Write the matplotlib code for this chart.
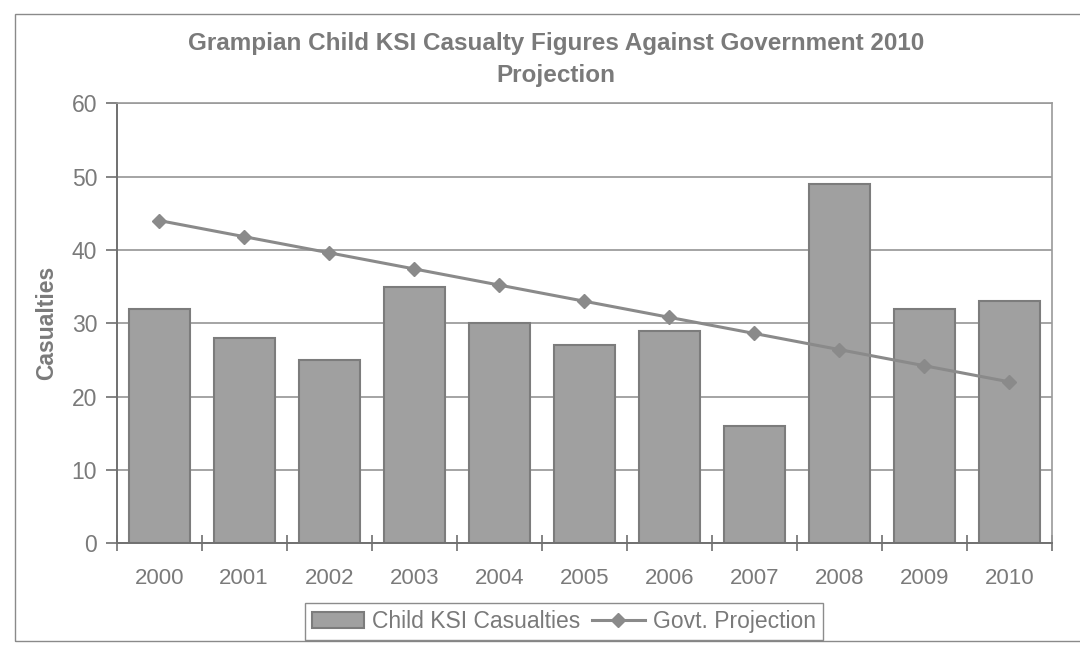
import numpy as np
import matplotlib
matplotlib.use("Agg")
import matplotlib.pyplot as plt
from matplotlib.patches import Rectangle

# data
YEARS = ["2000", "2001", "2002", "2003", "2004", "2005",
         "2006", "2007", "2008", "2009", "2010"]
CASUALTIES = [32, 28, 25, 35, 30, 27, 29, 16, 49, 32, 33]
PROJECTION = [44.0, 41.8, 39.6, 37.4, 35.2, 33.0, 30.8, 28.6, 26.4, 24.2, 22.0]

TXT = "#7a7a7a"
plt.rcParams["font.family"] = ["Liberation Sans", "DejaVu Sans"]

fig = plt.figure(figsize=(10.8, 6.49), dpi=100)
ax = fig.add_axes([0.108, 0.163, 0.866, 0.678])

# outer chart border (Excel chart area)
fig.patches.append(Rectangle((0.014, 0.013), 1.2, 0.965, transform=fig.transFigure,
                             fill=False, ec="#8a8a8a", lw=1.0))

x = np.arange(len(YEARS))
bars = ax.bar(x, CASUALTIES, width=0.72, color="#a0a0a0", edgecolor="#7c7c7c",
              lw=1.5, zorder=2, label="Child KSI Casualties")
line, = ax.plot(x, PROJECTION, color="#8a8a8a", lw=2.2, marker="D", ms=7,
                mfc="#8a8a8a", mec="#8a8a8a", zorder=3, label="Govt. Projection")

ax.set_xlim(-0.5, len(YEARS) - 0.5)
ax.set_ylim(0, 60)
ax.set_yticks(range(0, 61, 10))
ax.set_xticks(x)
ax.set_xticklabels(YEARS)
ax.set_xticks(np.arange(-0.5, len(YEARS), 1.0), minor=True)
ax.tick_params(axis="x", which="major", length=0, pad=18, labelsize=16, labelcolor=TXT)
ax.tick_params(axis="x", which="minor", direction="inout", length=12, width=1.2, color="#707070")
ax.tick_params(axis="y", direction="out", length=8, width=1.2, color="#707070",
               labelsize=16.5, labelcolor=TXT, pad=6)

ax.grid(axis="y", color="#8c8c8c", lw=1.1, zorder=0)
for side in ["top", "right"]:
    ax.spines[side].set_color("#9a9a9a")
    ax.spines[side].set_linewidth(1.2)
for side in ["left", "bottom"]:
    ax.spines[side].set_color("#707070")
    ax.spines[side].set_linewidth(1.4)

ax.set_ylabel("Casualties", fontsize=16.5, fontweight="bold", color=TXT, labelpad=10)
fig.text(0.515, 0.908, "Grampian Child KSI Casualty Figures Against Government 2010\nProjection",
         ha="center", va="center", fontsize=17.5, fontweight="bold", color=TXT, linespacing=1.5)

leg = fig.legend([bars, line], ["Child KSI Casualties", "Govt. Projection"],
                 loc="center", bbox_to_anchor=(0.522, 0.042), ncol=2, frameon=True,
                 fancybox=False, fontsize=16.5, handlelength=2.3, columnspacing=0.5,
                 handletextpad=0.35, borderpad=0.3)
leg.get_frame().set_edgecolor("#707070")
leg.get_frame().set_linewidth(1.0)
for t in leg.get_texts():
    t.set_color(TXT)

fig.savefig("out.png", dpi=100)
